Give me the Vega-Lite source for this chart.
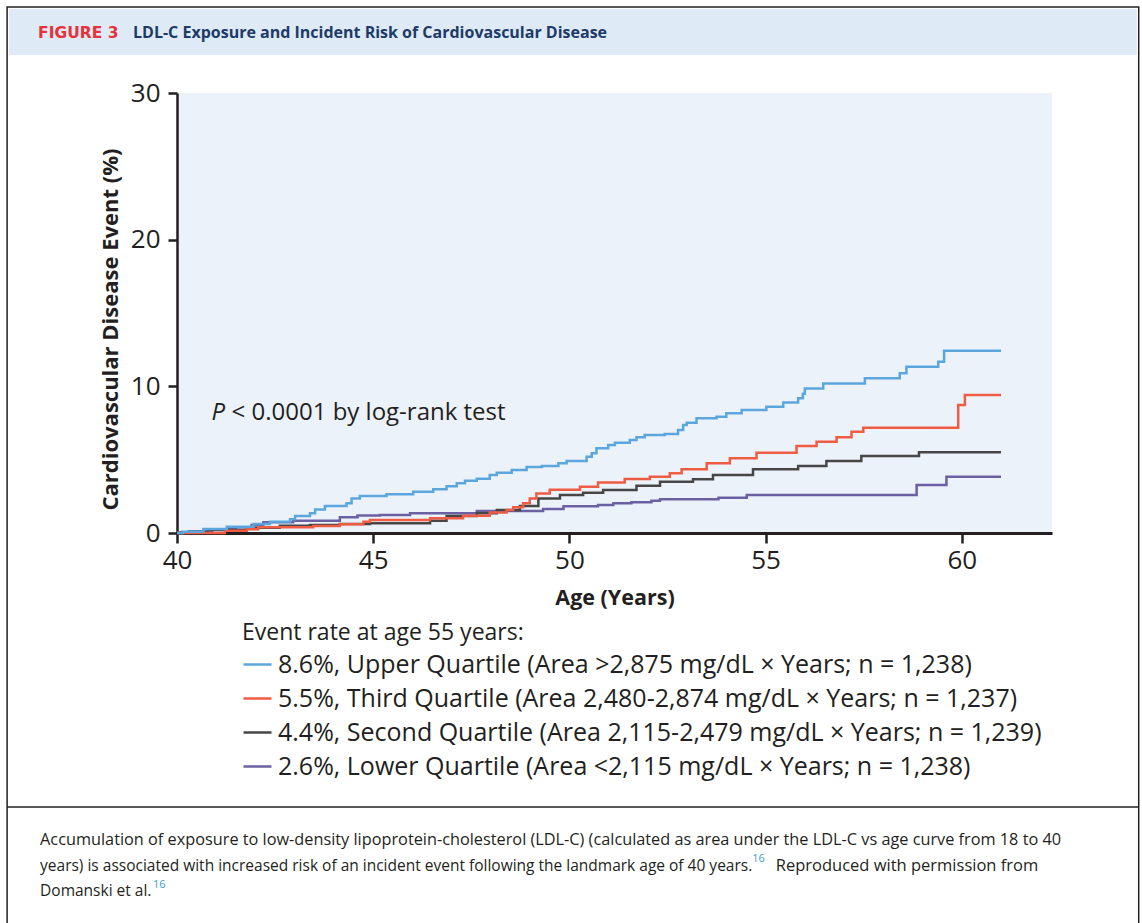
{
  "$schema": "https://vega.github.io/schema/vega-lite/v6.json",
  "width": 875,
  "height": 440,
  "autosize": {"type": "none"},
  "padding": {"left": 177, "top": 93, "right": 90, "bottom": 390},
  "background": "white",
  "config": {"view": {"stroke": null, "fill": "#ecf2fa"}, "font": "Open Sans"},
  "resolve": {"axis": {"x": "independent", "y": "independent"}},
  "datasets": {
    "curves": [
      {"q":"Lower","age":40,"pct":0},{"q":"Lower","age":40.3,"pct":0.12},{"q":"Lower","age":40.9,"pct":0.25},{"q":"Lower","age":41.5,"pct":0.4},{"q":"Lower","age":41.9,"pct":0.55},{"q":"Lower","age":42.2,"pct":0.73},{"q":"Lower","age":42.96,"pct":0.84},{"q":"Lower","age":44.15,"pct":1.07},{"q":"Lower","age":44.6,"pct":1.2},{"q":"Lower","age":45.17,"pct":1.23},{"q":"Lower","age":45.94,"pct":1.34},{"q":"Lower","age":47.64,"pct":1.5},{"q":"Lower","age":49.33,"pct":1.64},{"q":"Lower","age":49.85,"pct":1.82},{"q":"Lower","age":50.73,"pct":1.91},{"q":"Lower","age":51.12,"pct":2.02},{"q":"Lower","age":51.58,"pct":2.09},{"q":"Lower","age":52.09,"pct":2.2},{"q":"Lower","age":52.31,"pct":2.3},{"q":"Lower","age":53.8,"pct":2.41},{"q":"Lower","age":54.52,"pct":2.59},{"q":"Lower","age":58.85,"pct":3.27},{"q":"Lower","age":59.61,"pct":3.84},{"q":"Lower","age":61.0,"pct":3.84},
      {"q":"Second","age":40,"pct":0},{"q":"Second","age":40.1,"pct":0.05},{"q":"Second","age":40.79,"pct":0.2},{"q":"Second","age":41.78,"pct":0.36},{"q":"Second","age":42.62,"pct":0.5},{"q":"Second","age":43.39,"pct":0.55},{"q":"Second","age":44.15,"pct":0.62},{"q":"Second","age":44.92,"pct":0.66},{"q":"Second","age":46.45,"pct":0.84},{"q":"Second","age":46.87,"pct":1.16},{"q":"Second","age":47.64,"pct":1.34},{"q":"Second","age":48.15,"pct":1.57},{"q":"Second","age":48.74,"pct":1.84},{"q":"Second","age":49.21,"pct":2.36},{"q":"Second","age":49.76,"pct":2.59},{"q":"Second","age":50.35,"pct":2.75},{"q":"Second","age":50.86,"pct":2.93},{"q":"Second","age":51.71,"pct":3.23},{"q":"Second","age":52.31,"pct":3.5},{"q":"Second","age":53.15,"pct":3.66},{"q":"Second","age":53.66,"pct":3.95},{"q":"Second","age":54.68,"pct":4.34},{"q":"Second","age":55.83,"pct":4.57},{"q":"Second","age":56.55,"pct":4.91},{"q":"Second","age":57.44,"pct":5.25},{"q":"Second","age":58.91,"pct":5.5},{"q":"Second","age":61.0,"pct":5.5},
      {"q":"Third","age":40,"pct":0},{"q":"Third","age":41.22,"pct":0.16},{"q":"Third","age":41.78,"pct":0.25},{"q":"Third","age":42.07,"pct":0.39},{"q":"Third","age":43.47,"pct":0.48},{"q":"Third","age":44.15,"pct":0.59},{"q":"Third","age":44.75,"pct":0.77},{"q":"Third","age":44.92,"pct":0.89},{"q":"Third","age":46.45,"pct":1.0},{"q":"Third","age":47.29,"pct":1.18},{"q":"Third","age":47.97,"pct":1.39},{"q":"Third","age":48.4,"pct":1.57},{"q":"Third","age":48.57,"pct":1.75},{"q":"Third","age":48.82,"pct":2.02},{"q":"Third","age":48.99,"pct":2.36},{"q":"Third","age":49.16,"pct":2.7},{"q":"Third","age":49.5,"pct":2.95},{"q":"Third","age":50.27,"pct":3.15},{"q":"Third","age":50.73,"pct":3.45},{"q":"Third","age":51.41,"pct":3.68},{"q":"Third","age":52.05,"pct":3.84},{"q":"Third","age":52.56,"pct":4.07},{"q":"Third","age":52.86,"pct":4.34},{"q":"Third","age":53.5,"pct":4.75},{"q":"Third","age":54.09,"pct":5.09},{"q":"Third","age":54.77,"pct":5.48},{"q":"Third","age":55.79,"pct":5.93},{"q":"Third","age":56.3,"pct":6.23},{"q":"Third","age":56.81,"pct":6.52},{"q":"Third","age":57.19,"pct":6.91},{"q":"Third","age":57.49,"pct":7.18},{"q":"Third","age":59.91,"pct":8.73},{"q":"Third","age":60.08,"pct":9.41},{"q":"Third","age":61.0,"pct":9.41},
      {"q":"Upper","age":40,"pct":0},{"q":"Upper","age":40.15,"pct":0.09},{"q":"Upper","age":40.67,"pct":0.27},{"q":"Upper","age":41.27,"pct":0.43},{"q":"Upper","age":41.95,"pct":0.61},{"q":"Upper","age":42.37,"pct":0.77},{"q":"Upper","age":42.88,"pct":0.93},{"q":"Upper","age":43.01,"pct":1.16},{"q":"Upper","age":43.39,"pct":1.34},{"q":"Upper","age":43.52,"pct":1.61},{"q":"Upper","age":43.77,"pct":1.84},{"q":"Upper","age":44.32,"pct":2.02},{"q":"Upper","age":44.45,"pct":2.36},{"q":"Upper","age":44.66,"pct":2.52},{"q":"Upper","age":45.34,"pct":2.64},{"q":"Upper","age":46.02,"pct":2.82},{"q":"Upper","age":46.53,"pct":2.98},{"q":"Upper","age":46.87,"pct":3.18},{"q":"Upper","age":47.13,"pct":3.39},{"q":"Upper","age":47.34,"pct":3.57},{"q":"Upper","age":47.64,"pct":3.7},{"q":"Upper","age":47.97,"pct":3.95},{"q":"Upper","age":48.15,"pct":4.11},{"q":"Upper","age":48.53,"pct":4.3},{"q":"Upper","age":48.91,"pct":4.5},{"q":"Upper","age":49.3,"pct":4.56},{"q":"Upper","age":49.72,"pct":4.75},{"q":"Upper","age":49.93,"pct":4.91},{"q":"Upper","age":50.44,"pct":5.2},{"q":"Upper","age":50.57,"pct":5.43},{"q":"Upper","age":50.69,"pct":5.77},{"q":"Upper","age":50.99,"pct":6.0},{"q":"Upper","age":51.16,"pct":6.16},{"q":"Upper","age":51.54,"pct":6.34},{"q":"Upper","age":51.71,"pct":6.52},{"q":"Upper","age":51.92,"pct":6.68},{"q":"Upper","age":52.43,"pct":6.75},{"q":"Upper","age":52.77,"pct":7.02},{"q":"Upper","age":52.9,"pct":7.36},{"q":"Upper","age":52.99,"pct":7.52},{"q":"Upper","age":53.24,"pct":7.82},{"q":"Upper","age":53.75,"pct":7.93},{"q":"Upper","age":54.0,"pct":8.16},{"q":"Upper","age":54.39,"pct":8.39},{"q":"Upper","age":55.02,"pct":8.61},{"q":"Upper","age":55.45,"pct":8.89},{"q":"Upper","age":55.83,"pct":9.18},{"q":"Upper","age":55.95,"pct":9.5},{"q":"Upper","age":56.0,"pct":9.86},{"q":"Upper","age":56.47,"pct":10.2},{"q":"Upper","age":57.53,"pct":10.55},{"q":"Upper","age":58.42,"pct":10.89},{"q":"Upper","age":58.59,"pct":11.34},{"q":"Upper","age":59.4,"pct":11.68},{"q":"Upper","age":59.55,"pct":12.43},{"q":"Upper","age":61.0,"pct":12.43}
    ]
  },
  "layer": [
    {
      "data": {"values": [{"part": "header band"}]},
      "mark": {"type": "rect", "fill": "#deeaf6"},
      "encoding": {
        "x": {"datum": 35.72, "type": "quantitative", "scale": {"domain": [40, 62.3], "nice": false, "zero": false}, "axis": null},
        "x2": {"datum": 64.46},
        "y": {"datum": 35.73, "type": "quantitative", "scale": {"domain": [0, 30], "nice": false}, "axis": null},
        "y2": {"datum": 32.59}
      }
    },
    {
      "data": {"values": [{"part": "frame"}]},
      "mark": {"type": "rect", "fill": null, "stroke": "#231f20", "strokeWidth": 1.5},
      "encoding": {
        "x": {"datum": 35.67, "type": "quantitative", "scale": {"domain": [40, 62.3], "nice": false, "zero": false}, "axis": null},
        "x2": {"datum": 64.51},
        "y": {"datum": 35.86, "type": "quantitative", "scale": {"domain": [0, 30], "nice": false}, "axis": null},
        "y2": {"datum": -30}
      }
    },
    {
      "data": {"values": [{"part": "separator"}]},
      "mark": {"type": "rule", "stroke": "#231f20", "strokeWidth": 1.5},
      "encoding": {
        "x": {"datum": 35.67, "type": "quantitative", "scale": {"domain": [40, 62.3], "nice": false, "zero": false}, "axis": null},
        "x2": {"datum": 64.51},
        "y": {"datum": -18.68, "type": "quantitative", "scale": {"domain": [0, 30], "nice": false}, "axis": null}
      }
    },
    {
      "data": {"values": [{"label": "FIGURE 3"}]},
      "mark": {"type": "text", "font": "DejaVu Sans", "fontWeight": "bold", "fontSize": 15.5, "color": "#e5323b", "align": "left", "baseline": "middle"},
      "encoding": {
        "x": {"datum": 36.46, "type": "quantitative", "scale": {"domain": [40, 62.3], "nice": false, "zero": false}, "axis": null},
        "y": {"datum": 34.09, "type": "quantitative", "scale": {"domain": [0, 30], "nice": false}, "axis": null},
        "text": {"field": "label"}
      }
    },
    {
      "data": {"values": [{"label": "LDL-C Exposure and Incident Risk of Cardiovascular Disease"}]},
      "mark": {"type": "text", "fontWeight": "bold", "fontSize": 16, "color": "#1d3a68", "align": "left", "baseline": "middle"},
      "encoding": {
        "x": {"datum": 38.88, "type": "quantitative", "scale": {"domain": [40, 62.3], "nice": false, "zero": false}, "axis": null},
        "y": {"datum": 34.09, "type": "quantitative", "scale": {"domain": [0, 30], "nice": false}, "axis": null},
        "text": {"field": "label"}
      }
    },
    {
      "data": {"name": "curves"},
      "mark": {"type": "line", "interpolate": "step-after", "strokeWidth": 2.5},
      "encoding": {
        "x": {
          "field": "age", "type": "quantitative",
          "scale": {"domain": [40, 62.3], "nice": false, "zero": false},
          "axis": {"values": [40, 45, 50, 55, 60], "title": "Age (Years)", "grid": false, "labelFlush": false, "labelFontSize": 26, "labelColor": "#231f20", "labelPadding": 4, "tickSize": 10, "tickWidth": 2.5, "tickColor": "#231f20", "domainWidth": 3, "domainColor": "#231f20", "titleFontSize": 21.5, "titleFontWeight": "bold", "titleColor": "#231f20", "titlePadding": 14}
        },
        "y": {
          "field": "pct", "type": "quantitative",
          "scale": {"domain": [0, 30], "nice": false},
          "axis": {"values": [0, 10, 20, 30], "title": "Cardiovascular Disease Event (%)", "grid": false, "labelFlush": false, "labelFontSize": 26, "labelColor": "#231f20", "labelPadding": 8, "tickSize": 9, "tickWidth": 2.5, "tickColor": "#231f20", "domainWidth": 2.5, "domainColor": "#231f20", "titleFontSize": 22, "titleFontWeight": "bold", "titleColor": "#231f20", "titleX": -67, "titleY": 236, "titleBaseline": "middle"}
        },
        "color": {
          "field": "q", "type": "nominal",
          "scale": {"domain": ["Upper", "Third", "Second", "Lower"], "range": ["#5ba7dd", "#ef5b43", "#464646", "#6a60a2"]},
          "legend": {
            "orient": "none", "legendX": 65, "legendY": 529, "padding": 0,
            "title": "Event rate at age 55 years:", "titleFontSize": 23, "titleFontWeight": "normal", "titleColor": "#231f20", "titlePadding": 4, "titleLimit": 0,
            "labelFontSize": 25, "labelColor": "#231f20", "labelLimit": 0, "labelOffset": 5,
            "symbolType": "stroke", "symbolSize": 784, "symbolStrokeWidth": 2.5, "rowPadding": 5,
            "labelExpr": "datum.label == 'Upper' ? '8.6%, Upper Quartile (Area >2,875 mg/dL × Years; n = 1,238)' : datum.label == 'Third' ? '5.5%, Third Quartile (Area 2,480-2,874 mg/dL × Years; n = 1,237)' : datum.label == 'Second' ? '4.4%, Second Quartile (Area 2,115-2,479 mg/dL × Years; n = 1,239)' : '2.6%, Lower Quartile (Area <2,115 mg/dL × Years; n = 1,238)'"
          }
        }
      }
    },
    {
      "data": {"values": [{"label": "P"}]},
      "mark": {"type": "text", "fontStyle": "italic", "fontSize": 24, "color": "#231f20", "align": "left", "baseline": "middle"},
      "encoding": {
        "x": {"datum": 40.88, "type": "quantitative", "scale": {"domain": [40, 62.3], "nice": false, "zero": false}, "axis": null},
        "y": {"datum": 8.18, "type": "quantitative", "scale": {"domain": [0, 30], "nice": false}, "axis": null},
        "text": {"field": "label"}
      }
    },
    {
      "data": {"values": [{"label": "< 0.0001 by log-rank test"}]},
      "mark": {"type": "text", "fontSize": 24, "color": "#231f20", "align": "left", "baseline": "middle"},
      "encoding": {
        "x": {"datum": 41.39, "type": "quantitative", "scale": {"domain": [40, 62.3], "nice": false, "zero": false}, "axis": null},
        "y": {"datum": 8.18, "type": "quantitative", "scale": {"domain": [0, 30], "nice": false}, "axis": null},
        "text": {"field": "label"}
      }
    },
    {
      "data": {"values": [{"label": "Accumulation of exposure to low-density lipoprotein-cholesterol (LDL-C) (calculated as area under the LDL-C vs age curve from 18 to 40"}]},
      "mark": {"type": "text", "fontSize": 16.3, "color": "#231f20", "align": "left", "baseline": "middle"},
      "encoding": {
        "x": {"datum": 36.51, "type": "quantitative", "scale": {"domain": [40, 62.3], "nice": false, "zero": false}, "axis": null},
        "y": {"datum": -20.94, "type": "quantitative", "scale": {"domain": [0, 30], "nice": false}, "axis": null},
        "text": {"field": "label"}
      }
    },
    {
      "data": {"values": [{"label": "years) is associated with increased risk of an incident event following the landmark age of 40 years."}]},
      "mark": {"type": "text", "fontSize": 15.5, "color": "#231f20", "align": "left", "baseline": "middle"},
      "encoding": {
        "x": {"datum": 36.51, "type": "quantitative", "scale": {"domain": [40, 62.3], "nice": false, "zero": false}, "axis": null},
        "y": {"datum": -22.71, "type": "quantitative", "scale": {"domain": [0, 30], "nice": false}, "axis": null},
        "text": {"field": "label"}
      }
    },
    {
      "data": {"values": [{"label": "16"}]},
      "mark": {"type": "text", "fontSize": 11, "color": "#3b9bd4", "align": "left", "baseline": "middle"},
      "encoding": {
        "x": {"datum": 54.66, "type": "quantitative", "scale": {"domain": [40, 62.3], "nice": false, "zero": false}, "axis": null},
        "y": {"datum": -22.2, "type": "quantitative", "scale": {"domain": [0, 30], "nice": false}, "axis": null},
        "text": {"field": "label"}
      }
    },
    {
      "data": {"values": [{"label": "Reproduced with permission from"}]},
      "mark": {"type": "text", "fontSize": 16.5, "color": "#231f20", "align": "left", "baseline": "middle"},
      "encoding": {
        "x": {"datum": 55.26, "type": "quantitative", "scale": {"domain": [40, 62.3], "nice": false, "zero": false}, "axis": null},
        "y": {"datum": -22.71, "type": "quantitative", "scale": {"domain": [0, 30], "nice": false}, "axis": null},
        "text": {"field": "label"}
      }
    },
    {
      "data": {"values": [{"label": "Domanski et al."}]},
      "mark": {"type": "text", "fontSize": 15.5, "color": "#231f20", "align": "left", "baseline": "middle"},
      "encoding": {
        "x": {"datum": 36.51, "type": "quantitative", "scale": {"domain": [40, 62.3], "nice": false, "zero": false}, "axis": null},
        "y": {"datum": -24.41, "type": "quantitative", "scale": {"domain": [0, 30], "nice": false}, "axis": null},
        "text": {"field": "label"}
      }
    },
    {
      "data": {"values": [{"label": "16"}]},
      "mark": {"type": "text", "fontSize": 11, "color": "#3b9bd4", "align": "left", "baseline": "middle"},
      "encoding": {
        "x": {"datum": 39.39, "type": "quantitative", "scale": {"domain": [40, 62.3], "nice": false, "zero": false}, "axis": null},
        "y": {"datum": -23.98, "type": "quantitative", "scale": {"domain": [0, 30], "nice": false}, "axis": null},
        "text": {"field": "label"}
      }
    }
  ]
}
